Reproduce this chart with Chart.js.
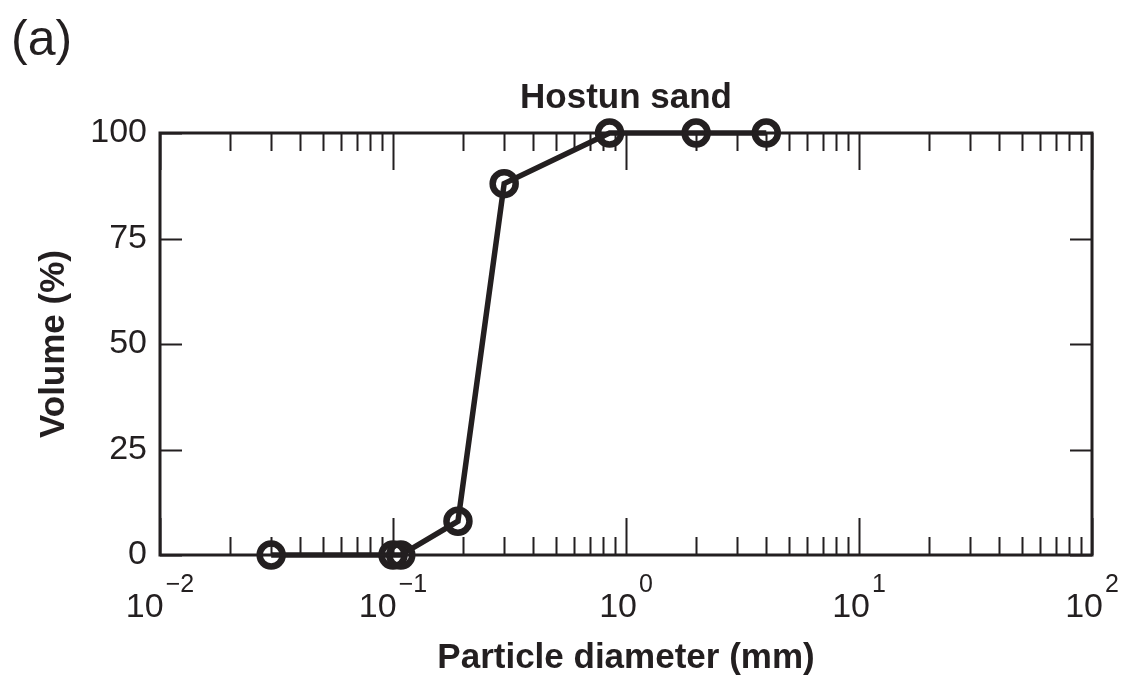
<!DOCTYPE html>
<html>
<head>
<meta charset="utf-8">
<script src="https://cdn.jsdelivr.net/npm/chart.js@4.4.1/dist/chart.umd.min.js"></script>
<style>
  html, body { margin: 0; padding: 0; background: #fff; }
  canvas { display: block; }
</style>
</head>
<body>
<canvas id="psd" width="1123" height="676"></canvas>
<script>
// grain size distribution, Hostun sand
const diameters = [0.03, 0.1, 0.108, 0.19, 0.3, 0.85, 2, 4]   // mm
const volumes = [0, 0, 0, 8, 88, 100, 100, 100]                // %
const decadeTicks = [0.01, 0.1, 1, 10, 100]
const decadeExponents = ['\u22122', '\u22121', '0', '1', '2']
const volumeTicks = [0, 25, 50, 75, 100]

const ink = '#231f20'
const font = '"Liberation Sans", Arial, Helvetica, sans-serif'

// inward ticks, frame, log tick labels and captions
const framePlugin = {
    id: 'frame',
    afterDraw(chart) {
        const ctx = chart.ctx
        const a = chart.chartArea
        const xs = chart.scales.x, ys = chart.scales.y
        ctx.save()
        ctx.strokeStyle = ink
        ctx.lineCap = 'butt'

        // x ticks: decades long, 2..9 short, top and bottom
        ctx.lineWidth = 2
        for (let d = 0; d < decadeTicks.length; d++) {
            const base = decadeTicks[d]
            for (let m = 1; m <= 9; m++) {
                const v = base * m
                if (v > 100) break
                const px = Math.round(xs.getPixelForValue(v)) + 0.5
                const len = m === 1 ? 37 : 18
                ctx.beginPath()
                ctx.moveTo(px, a.bottom); ctx.lineTo(px, a.bottom - len)
                ctx.moveTo(px, a.top); ctx.lineTo(px, a.top + len)
                ctx.stroke()
            }
        }
        // y ticks on both sides
        volumeTicks.forEach(v => {
            const py = Math.round(ys.getPixelForValue(v)) + 0.5
            ctx.beginPath()
            ctx.moveTo(a.left, py); ctx.lineTo(a.left + 22, py)
            ctx.moveTo(a.right, py); ctx.lineTo(a.right - 22, py)
            ctx.stroke()
        })

        ctx.lineWidth = 3
        ctx.strokeRect(a.left, a.top, a.right - a.left, a.bottom - a.top)

        // 10^n labels
        ctx.fillStyle = ink
        ctx.textBaseline = 'alphabetic'
        ctx.textAlign = 'left'
        decadeTicks.forEach((v, i) => {
            const px = xs.getPixelForValue(v)
            ctx.font = '34px ' + font
            const wBase = ctx.measureText('10').width
            ctx.font = '25px ' + font
            const wExp = ctx.measureText(decadeExponents[i]).width
            const x0 = px - (wBase + wExp + 2) / 2
            ctx.font = '34px ' + font
            ctx.fillText('10', x0, 617)
            ctx.font = '25px ' + font
            ctx.fillText(decadeExponents[i], x0 + wBase + 2, 592)
        })

        ctx.textAlign = 'center'
        ctx.font = 'bold 35px ' + font
        ctx.fillText('Particle diameter (mm)', (a.left + a.right) / 2, 668)
        ctx.fillText('Hostun sand', (a.left + a.right) / 2, 108)

        ctx.save()
        ctx.translate(64, (a.top + a.bottom) / 2)
        ctx.rotate(-Math.PI / 2)
        ctx.fillText('Volume (%)', 0, 0)
        ctx.restore()

        ctx.textAlign = 'left'
        ctx.font = '50px ' + font
        ctx.fillText('(a)', 11, 55)
        ctx.restore()
    }
}

new Chart(document.getElementById('psd'), {
    type: 'line',
    data: {
        datasets: [{
            data: diameters.map((d, i) => ({ x: d, y: volumes[i] })),
            borderColor: ink,
            borderWidth: 5.5,
            pointRadius: 11.5,
            pointBorderWidth: 6.5,
            pointBorderColor: ink,
            pointBackgroundColor: 'rgba(0,0,0,0)',
            fill: false,
            tension: 0,
            clip: false
        }]
    },
    options: {
        responsive: false,
        animation: false,
        layout: { padding: { left: 0, top: 133, right: 31, bottom: 0 } },
        plugins: {
            legend: { display: false },
            tooltip: { enabled: false },
            title: { display: false }
        },
        scales: {
            x: {
                type: 'logarithmic',
                min: 0.01,
                max: 100,
                grid: { display: false },
                border: { display: false },
                ticks: { display: false },
                afterFit: axis => { axis.height = 121 }
            },
            y: {
                type: 'linear',
                min: 0,
                max: 100,
                grid: { display: false, drawTicks: false },
                border: { display: false },
                ticks: {
                    stepSize: 25,
                    padding: 13,
                    color: ink,
                    font: { family: font, size: 34 }
                },
                afterFit: axis => { axis.width = 160 }
            }
        }
    },
    plugins: [framePlugin]
})
</script>
</body>
</html>
